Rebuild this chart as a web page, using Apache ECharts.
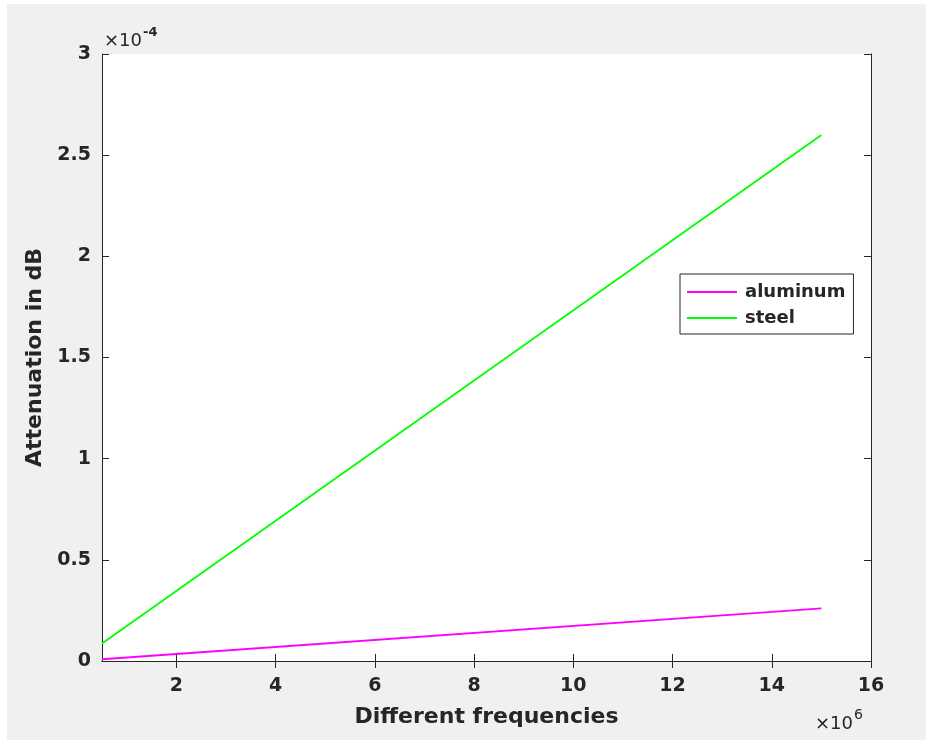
<!DOCTYPE html>
<html>
<head>
<meta charset="utf-8">
<script src="https://cdn.jsdelivr.net/npm/echarts@6/dist/echarts.min.js"></script>
<style>
html,body{margin:0;padding:0;background:#fff;}
#wrap{position:absolute;left:7px;top:4px;width:919px;height:736px;background:#f0f0f0;}
#chart{position:absolute;left:0;top:0;width:926px;height:740px;}
</style>
</head>
<body>
<div id="wrap"></div>
<div id="chart"></div>
<script>
// Frequencies in units of 1e6 Hz, attenuation in units of 1e-4 dB
const freq = [0.5, 15];
const aluminum = [0.0087, 0.26];
const steel = [0.087, 2.6];
const xTicks = [2, 4, 6, 8, 10, 12, 14, 16];
const yTicks = [0, 0.5, 1, 1.5, 2, 2.5, 3];
const seriesNames = ['aluminum', 'steel'];
const seriesColors = ['#ff00ff', '#00ff00'];

const txt = '#262626';
const font = 'DejaVu Sans, Verdana, sans-serif';

const chart = echarts.init(document.getElementById('chart'), null, {renderer: 'canvas'});
const axisLine = {show: true, lineStyle: {color: txt, width: 1}};
const tick = {show: true, inside: true, length: 7, lineStyle: {color: txt, width: 1}};
const tickLabel = {color: txt, fontSize: 19, fontWeight: 'bold', fontFamily: font};

chart.setOption({
  backgroundColor: 'transparent',
  animation: false,
  grid: {left: 102, right: 55, top: 54, bottom: 79, show: true, backgroundColor: '#fff', borderWidth: 0},
  legend: {
    orient: 'vertical', left: 680, top: 274,
    backgroundColor: '#fff', borderColor: txt, borderWidth: 1,
    padding: [8, 8, 6, 7], itemGap: 6, itemWidth: 50, itemHeight: 2,
    textStyle: {color: txt, fontSize: 18, fontWeight: 'bold', fontFamily: font, lineHeight: 20, padding: [0, 0, 0, 3]},
    data: seriesNames.map(n => ({name: n, icon: 'rect'}))
  },
  xAxis: [{
    type: 'value', min: 0.5, max: 16, position: 'bottom',
    axisLine: axisLine,
    axisTick: Object.assign({customValues: xTicks}, tick),
    axisLabel: Object.assign({customValues: xTicks, margin: 16, showMaxLabel: true}, tickLabel),
    splitLine: {show: false},
    name: 'Different frequencies', nameLocation: 'middle', nameGap: 45,
    nameTextStyle: {color: txt, fontSize: 22, fontWeight: 'bold', fontFamily: font}
  }, {
    type: 'value', min: 0.5, max: 16, position: 'top',
    axisLine: axisLine,
    axisTick: Object.assign({customValues: xTicks}, tick),
    axisLabel: {show: false}, splitLine: {show: false}
  }],
  yAxis: [{
    type: 'value', min: 0, max: 3, interval: 0.5, position: 'left',
    axisLine: axisLine, axisTick: tick,
    axisLabel: Object.assign({margin: 11}, tickLabel),
    splitLine: {show: false},
    name: 'Attenuation in dB', nameLocation: 'middle', nameGap: 53,
    nameTextStyle: {color: txt, fontSize: 22, fontWeight: 'bold', fontFamily: font}
  }, {
    type: 'value', min: 0, max: 3, interval: 0.5, position: 'right',
    axisLine: axisLine, axisTick: tick,
    axisLabel: {show: false}, splitLine: {show: false}
  }],
  graphic: [
    {type: 'text', style: {x: 104, y: 41, text: '×10', fontSize: 18, fontFamily: font, fill: txt, verticalAlign: 'middle'}},
    {type: 'text', style: {x: 143, y: 33, text: '-4', fontSize: 13, fontWeight: 'bold', fontFamily: font, fill: txt, verticalAlign: 'middle'}},
    {type: 'text', style: {x: 815, y: 724, text: '×10', fontSize: 18, fontFamily: font, fill: txt, verticalAlign: 'middle'}},
    {type: 'text', style: {x: 854, y: 715, text: '6', fontSize: 14, fontFamily: font, fill: txt, verticalAlign: 'middle'}}
  ],
  series: seriesNames.map((n, k) => ({
    name: n, type: 'line', symbol: 'none',
    data: freq.map((f, i) => [f, (k === 0 ? aluminum : steel)[i]]),
    lineStyle: {color: seriesColors[k], width: 1.8}, itemStyle: {color: seriesColors[k]}
  }))
});
</script>
</body>
</html>
